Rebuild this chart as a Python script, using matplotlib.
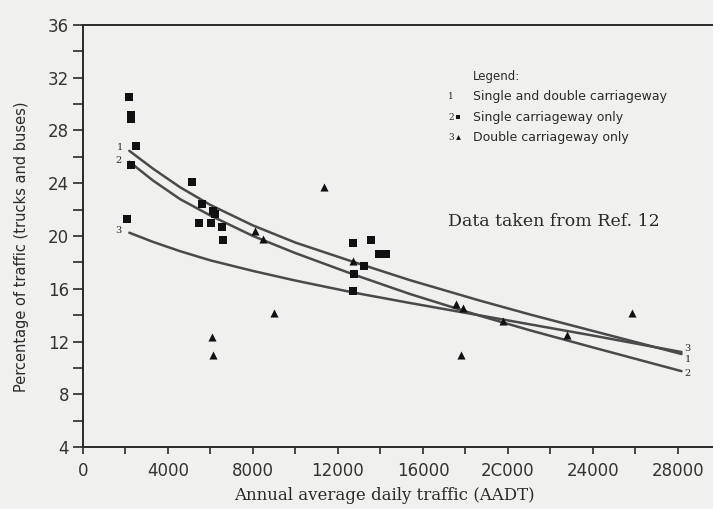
import matplotlib
matplotlib.use("Agg")
import matplotlib.pyplot as plt
from matplotlib.ticker import MultipleLocator

# ---- data ----
single_x = [2165, 2245, 2245, 2480, 2260, 2085, 5114, 5615, 6100, 6200, 5474, 6008,
            6525, 6604, 12690, 13540, 13940, 14260, 13240, 12770, 12690]
single_y = [30.56, 29.2, 28.85, 26.82, 25.38, 21.26, 24.11, 22.42, 21.9, 21.65, 20.96, 21.0,
            20.7, 19.69, 19.44, 19.69, 18.61, 18.61, 17.72, 17.12, 15.85]

double_x = [11340, 8094, 8456, 6087, 6134, 9004, 17550, 17870, 17790, 12720, 19780, 22790, 25820]
double_y = [23.74, 20.4, 19.77, 12.32, 10.97, 14.18, 14.84, 14.52, 10.97, 18.12, 13.58, 12.49, 14.18]

curve_x = [2180, 3300, 4565, 6000, 8000, 10000, 12700, 15390, 18680, 21035, 24000, 28170]
curve1_y = [26.46, 25.1, 23.7, 22.35, 20.8, 19.5, 18.05, 16.65, 15.1, 14.05, 12.8, 11.05]
curve2_y = [25.63, 24.2, 22.8, 21.55, 20.0, 18.7, 17.1, 15.6, 13.95, 12.85, 11.55, 9.75]
curve3_y = [20.25, 19.55, 18.85, 18.15, 17.35, 16.62, 15.72, 14.92, 13.98, 13.3, 12.45, 11.2]

x_ticks = [0, 4000, 8000, 12000, 16000, 20000, 24000, 28000]
x_tick_labels = ["0", "4000", "8000", "12000", "16000", "2C000", "24000", "28000"]
y_ticks = [4, 8, 12, 16, 20, 24, 28, 32, 36]

legend_lines = ["Single and double carriageway", "Single carriageway only", "Double carriageway only"]

BG = "#f0f0ee"
INK = "#2a2a2a"
LINE = "#4a4a4a"

fig = plt.figure(figsize=(7.13, 5.09), dpi=100, facecolor=BG)
ax = fig.add_axes([0.1164, 0.1218, 0.8836, 0.8291], facecolor=BG)

for cy in [curve1_y, curve2_y, curve3_y]:
    ax.plot(curve_x, cy, color=LINE, lw=1.8, solid_capstyle="round", solid_joinstyle="round", zorder=2)

ax.scatter(single_x, single_y, marker="s", s=34, color="#111111", zorder=3, linewidths=0)
ax.scatter(double_x, double_y, marker="^", s=34, color="#111111", zorder=3, linewidths=0)

ax.set_xlim(0, 29650)
ax.set_ylim(4, 36)

ax.spines["right"].set_visible(False)
for s in ["top", "left", "bottom"]:
    ax.spines[s].set_color(INK)
    ax.spines[s].set_linewidth(1.4)

ax.set_xticks(x_ticks)
ax.set_xticklabels(x_tick_labels)
ax.xaxis.set_minor_locator(MultipleLocator(2000))
ax.set_yticks(y_ticks)
ax.yaxis.set_minor_locator(MultipleLocator(2))
ax.tick_params(axis="both", which="both", direction="out", color=INK, width=1.2)
ax.tick_params(axis="y", which="both", length=7, labelsize=12, pad=3, labelcolor="#333333")
ax.tick_params(axis="x", which="both", length=5, labelsize=12, pad=6, labelcolor="#333333")
for lab in ax.get_xticklabels() + ax.get_yticklabels():
    lab.set_fontfamily("DejaVu Sans")

ax.set_xlabel("Annual average daily traffic (AADT)", fontsize=12, family="DejaVu Serif",
              color=INK)
ax.xaxis.set_label_coords(0.479, -0.114)
ax.xaxis.label.set_va("center")
ax.set_ylabel("Percentage of traffic (trucks and buses)", fontsize=10.5, family="DejaVu Sans",
              color=INK)
ax.yaxis.set_label_coords(-0.097, 0.474)
ax.yaxis.label.set_va("center")

# curve labels
for txt, x, y in [("1", 1868, 26.69), ("2", 1820, 25.76), ("3", 1820, 20.4)]:
    ax.text(x, y, txt, fontsize=7, ha="right", va="center", color=INK, family="DejaVu Serif")
for txt, x, y in [("3", 28300, 11.48), ("1", 28300, 10.65), ("2", 28300, 9.59)]:
    ax.text(x, y, txt, fontsize=7, ha="left", va="center", color=INK, family="DejaVu Serif")

# legend block
ax.text(18350, 32.1, "Legend:", fontsize=8.5, family="DejaVu Sans", color=INK, va="center")
ly = [30.61, 29.02, 27.5]
for i, (txt, yy) in enumerate(zip(legend_lines, ly)):
    ax.text(17180, yy, str(i + 1), fontsize=6.5, family="DejaVu Serif", color=INK, va="center")
    ax.text(18350, yy, txt, fontsize=9, family="DejaVu Sans", color=INK, va="center")
ax.scatter([17650], [ly[1]], marker="s", s=10, color="#111111", linewidths=0)
ax.scatter([17650], [ly[2]], marker="^", s=12, color="#111111", linewidths=0)

ax.text(17180, 21.08, "Data taken from Ref. 12", fontsize=12.5, family="DejaVu Serif",
        color=INK, va="center")

fig.savefig("out.png", dpi=100, facecolor=BG)
